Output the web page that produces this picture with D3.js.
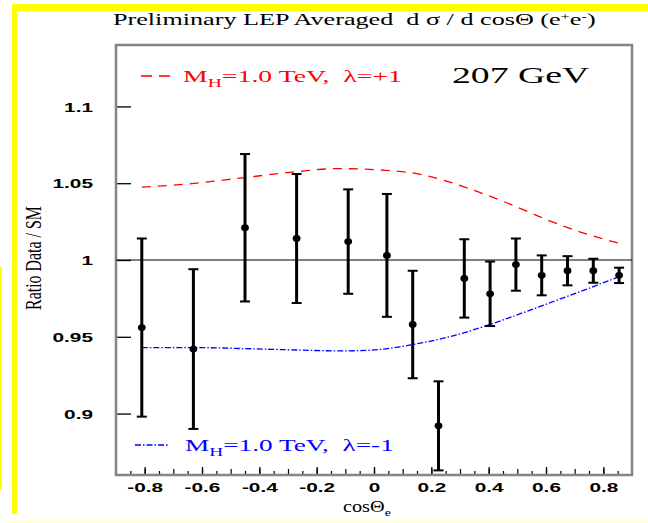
<!DOCTYPE html>
<html>
<head>
<meta charset="utf-8">
<script src="https://cdn.jsdelivr.net/npm/d3@7"></script>
<style>
  body { margin: 0; background: #fff; }
  svg { display: block; }
</style>
</head>
<body>
<svg width="648" height="523"></svg>
<script>
// bin centres in cos(theta) and the LEP ratio data / SM
var dataCos = [-0.81, -0.63, -0.45, -0.27, -0.09, 0.045, 0.135, 0.225, 0.315, 0.405, 0.495, 0.585, 0.675, 0.765, 0.855];
var dataVal = [0.956, 0.942, 1.021, 1.014, 1.012, 1.003, 0.958, 0.892, 0.988, 0.978, 0.997, 0.990, 0.993, 0.993, 0.990];
var dataErr = [0.058, 0.052, 0.048, 0.042, 0.034, 0.040, 0.035, 0.029, 0.0255, 0.021, 0.017, 0.013, 0.0095, 0.0078, 0.005];

// model curves, M_H = 1 TeV, lambda = +1 / -1
var redCos = [-0.81, -0.66, -0.45, -0.27, -0.13, 0.04, 0.14, 0.25, 0.37, 0.49, 0.60, 0.72, 0.855];
var redVal = [1.0475, 1.0493, 1.0537, 1.0575, 1.0595, 1.0584, 1.0565, 1.0515, 1.0439, 1.0352, 1.0265, 1.0182, 1.0109];
var blueCos = [-0.81, -0.63, -0.45, -0.27, -0.12, -0.02, 0.09, 0.14, 0.25, 0.40, 0.52, 0.64, 0.75, 0.855];
var blueVal = [0.943, 0.943, 0.9423, 0.9414, 0.9408, 0.9412, 0.9435, 0.9451, 0.9494, 0.9577, 0.9657, 0.974, 0.9816, 0.9892];

var yTicks = [0.9, 0.95, 1, 1.05, 1.1];
var yTickLabels = ['0.9', '0.95', '1', '1.05', '1.1'];
var xTicks = [-0.8, -0.6, -0.4, -0.2, 0, 0.2, 0.4, 0.6, 0.8];
var xTickLabels = ['-0.8', '-0.6', '-0.4', '-0.2', '0', '0.2', '0.4', '0.6', '0.8'];

var svg = d3.select('svg');
var serif = '"Liberation Serif", "Times New Roman", serif';
var sans = '"Liberation Sans", Arial, sans-serif';

// yellow border bits
svg.append('rect').attr('x', 12).attr('y', 4).attr('width', 636).attr('height', 7).attr('fill', '#ffff00');
svg.append('rect').attr('x', 12).attr('y', 4).attr('width', 5).attr('height', 510).attr('fill', '#ffff00');
svg.append('rect').attr('x', 0).attr('y', 267).attr('width', 2).attr('height', 223).attr('fill', '#ffff00');
svg.append('rect').attr('x', 12).attr('y', 520).attr('width', 636).attr('height', 3).attr('fill', '#ffffd8');

var x = d3.scaleLinear().domain([-0.9, 0.9]).range([116, 632]);
var y = d3.scaleLinear().domain([0.86, 1.14]).range([475, 45]);

svg.append('clipPath').attr('id', 'clip').append('rect')
  .attr('x', 116).attr('y', 45).attr('width', 516).attr('height', 430);

// stretch text horizontally to the wanted width
function fit(t, x0, w) {
  var b = t.node().getBBox();
  t.attr('transform', 'translate(' + x0 + ',0) scale(' + (w / b.width) + ',1)');
}

// y axis
var gy = svg.append('g').attr('transform', 'translate(116,0)')
  .call(d3.axisLeft(y).tickValues(yTicks).tickSize(-15).tickFormat(function(d, i) { return yTickLabels[i]; }));
gy.select('.domain').remove();
gy.selectAll('line').attr('stroke', '#000').attr('stroke-width', 1.3);
gy.selectAll('text').attr('x', 0).attr('dy', '0.36em').attr('transform', 'translate(-23,0) scale(1.6,1)')
  .attr('font-family', sans).attr('font-weight', 'bold').attr('font-size', 13).attr('fill', '#000');

// x axis: minor ticks every 0.05, medium every 0.1, labelled every 0.2
var minor = d3.range(-17, 18).map(function(i) { return i * 0.05; });
var gxm = svg.append('g').attr('transform', 'translate(0,475)')
  .call(d3.axisBottom(x).tickValues(minor).tickSize(-4).tickFormat(''));
gxm.select('.domain').remove();
gxm.selectAll('line').attr('stroke', '#000').attr('stroke-width', 1.2)
  .attr('y2', function(d) { return Math.abs(Math.round(d * 20)) % 2 === 0 ? -6 : -4; });
var gx = svg.append('g').attr('transform', 'translate(0,475)')
  .call(d3.axisBottom(x).tickValues(xTicks).tickSize(-8).tickPadding(8).tickFormat(function(d, i) { return xTickLabels[i]; }));
gx.select('.domain').remove();
gx.selectAll('line').attr('stroke', '#000').attr('stroke-width', 1.3);
gx.selectAll('text').attr('transform', 'scale(1.6,1)')
  .attr('font-family', sans).attr('font-weight', 'bold').attr('font-size', 13).attr('fill', '#000');

// frame
svg.append('rect').attr('x', 116).attr('y', 45).attr('width', 516).attr('height', 430)
  .attr('fill', 'none').attr('stroke', '#858585').attr('stroke-width', 2.5);

// reference line at 1
svg.append('line').attr('x1', x(-0.9)).attr('x2', x(0.9)).attr('y1', y(1)).attr('y2', y(1))
  .attr('stroke', '#000').attr('stroke-width', 1);

var plot = svg.append('g').attr('clip-path', 'url(#clip)');
var line = d3.line().x(function(d) { return x(d[0]); }).y(function(d) { return y(d[1]); }).curve(d3.curveMonotoneX);

plot.append('path').datum(d3.zip(redCos, redVal)).attr('d', line)
  .attr('fill', 'none').attr('stroke', '#ff0000').attr('stroke-width', 1.3).attr('stroke-dasharray', '9,7');
plot.append('path').datum(d3.zip(blueCos, blueVal)).attr('d', line)
  .attr('fill', 'none').attr('stroke', '#0000ff').attr('stroke-width', 1.3).attr('stroke-dasharray', '6,2,1.5,2');

// data points with error bars
var pts = dataCos.map(function(c, i) { return { c: c, v: dataVal[i], e: dataErr[i] }; });
var g = plot.selectAll('g.pt').data(pts).enter().append('g').attr('class', 'pt');
g.append('line').attr('x1', function(d) { return x(d.c); }).attr('x2', function(d) { return x(d.c); })
  .attr('y1', function(d) { return y(d.v + d.e); }).attr('y2', function(d) { return y(d.v - d.e); })
  .attr('stroke', '#000').attr('stroke-width', 3);
g.append('line').attr('x1', function(d) { return x(d.c) - 5; }).attr('x2', function(d) { return x(d.c) + 5; })
  .attr('y1', function(d) { return y(d.v + d.e); }).attr('y2', function(d) { return y(d.v + d.e); })
  .attr('stroke', '#000').attr('stroke-width', 2);
g.append('line').attr('x1', function(d) { return x(d.c) - 5; }).attr('x2', function(d) { return x(d.c) + 5; })
  .attr('y1', function(d) { return y(d.v - d.e); }).attr('y2', function(d) { return y(d.v - d.e); })
  .attr('stroke', '#000').attr('stroke-width', 2);
g.append('ellipse').attr('cx', function(d) { return x(d.c); }).attr('cy', function(d) { return y(d.v); })
  .attr('rx', 3.9).attr('ry', 3.4).attr('fill', '#000');

// title
var title = svg.append('text').attr('x', 0).attr('y', 25).attr('font-family', serif).attr('font-size', 16).attr('fill', '#000');
title.append('tspan').text('Preliminary LEP Averaged\u00a0\u00a0d \u03c3 / d cos\u0398 (e');
title.append('tspan').attr('dy', -5).attr('font-size', 10).text('+');
title.append('tspan').attr('dy', 5).text('e');
title.append('tspan').attr('dy', -5).attr('font-size', 10).text('-');
title.append('tspan').attr('dy', 5).text(')');
fit(title, 113, 483);

// legend
svg.append('line').attr('x1', 141).attr('x2', 170).attr('y1', 76).attr('y2', 76)
  .attr('stroke', '#ff0000').attr('stroke-width', 1.3).attr('stroke-dasharray', '11,7');
var lr = svg.append('text').attr('x', 0).attr('y', 82).attr('font-family', serif).attr('font-size', 17).attr('fill', '#ff0000');
lr.append('tspan').text('M');
lr.append('tspan').attr('dy', 5).attr('font-size', 12).text('H');
lr.append('tspan').attr('dy', -5).text('=1.0 TeV,\u00a0\u00a0\u03bb=+1');
fit(lr, 183, 219);

var ge = svg.append('text').attr('x', 0).attr('y', 83).attr('font-family', serif).attr('font-size', 23).attr('fill', '#000')
  .text('207 GeV');
fit(ge, 452, 138);

svg.append('line').attr('x1', 135).attr('x2', 168).attr('y1', 445).attr('y2', 445)
  .attr('stroke', '#0000ff').attr('stroke-width', 1.3).attr('stroke-dasharray', '6,2,1.5,2');
var lb = svg.append('text').attr('x', 0).attr('y', 451).attr('font-family', serif).attr('font-size', 17).attr('fill', '#0000ff');
lb.append('tspan').text('M');
lb.append('tspan').attr('dy', 5).attr('font-size', 12).text('H');
lb.append('tspan').attr('dy', -5).text('=1.0 TeV,\u00a0\u00a0\u03bb=-1');
fit(lb, 185, 209);

// axis titles
var xt = svg.append('text').attr('x', 0).attr('y', 512).attr('font-family', serif).attr('font-size', 16).attr('fill', '#000');
xt.append('tspan').text('cos\u0398');
xt.append('tspan').attr('dy', 4).attr('font-size', 11).text('e');
fit(xt, 343, 48);

var yt = svg.append('text').attr('x', 0).attr('y', 0).attr('text-anchor', 'middle')
  .attr('font-family', serif).attr('font-size', 23).attr('fill', '#000').text('Ratio Data / SM');
var yb = yt.node().getBBox();
yt.attr('transform', 'translate(41,258) rotate(-90) scale(' + (104 / yb.width) + ',1)');
</script>
</body>
</html>
